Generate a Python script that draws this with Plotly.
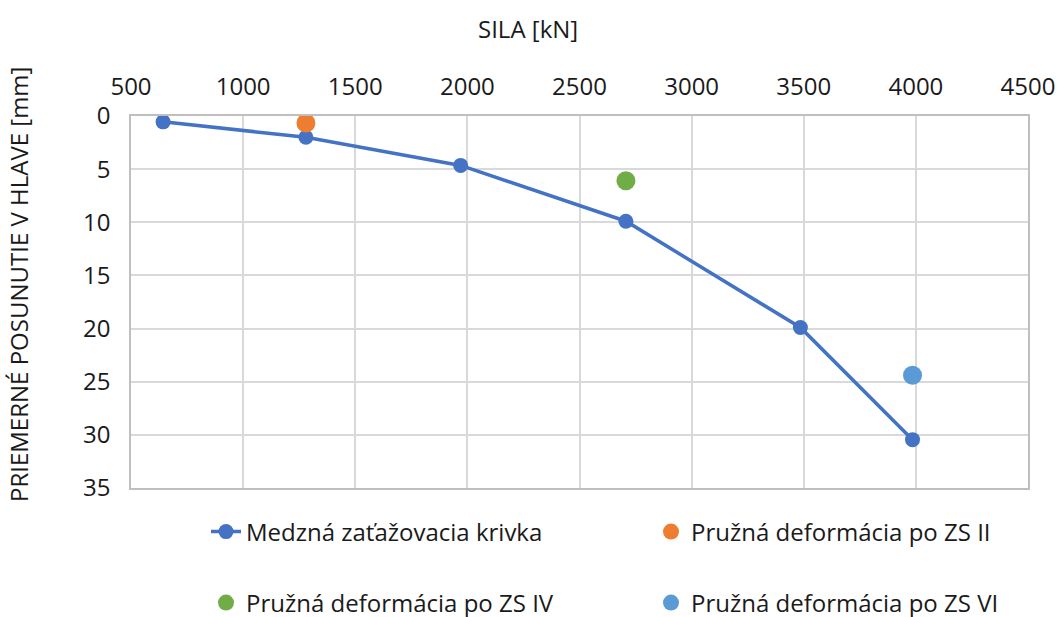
import plotly.graph_objects as go

# Data
sila_curve = [643, 1280, 1970, 2707, 3485, 3985]
pos_curve = [0.55, 2.0, 4.65, 9.9, 19.9, 30.45]
sila_zs2 = [1280]
pos_zs2 = [0.65]
sila_zs4 = [2707]
pos_zs4 = [6.1]
sila_zs6 = [3985]
pos_zs6 = [24.4]

names = ["Medzná zaťažovacia krivka", "Pružná deformácia po ZS II",
         "Pružná deformácia po ZS IV", "Pružná deformácia po ZS VI"]
x_ticks = [500, 1000, 1500, 2000, 2500, 3000, 3500, 4000, 4500]
y_ticks = [0, 5, 10, 15, 20, 25, 30, 35]

FONT = "Open Sans"
FS = 24
TXT = "#1a1a1a"
fig = go.Figure()
fig.add_trace(go.Scatter(x=sila_curve, y=pos_curve, mode="lines+markers", name=names[0],
                         line=dict(color="#4472C4", width=3.5),
                         marker=dict(color="#4472C4", size=15), legend="legend"))
fig.add_trace(go.Scatter(x=sila_zs2, y=pos_zs2, mode="markers", name=names[1],
                         marker=dict(color="#ED7D31", size=19), legend="legend"))
fig.add_trace(go.Scatter(x=sila_zs4, y=pos_zs4, mode="markers", name=names[2],
                         marker=dict(color="#70AD47", size=19), legend="legend2"))
fig.add_trace(go.Scatter(x=sila_zs6, y=pos_zs6, mode="markers", name=names[3],
                         marker=dict(color="#5B9BD5", size=19), legend="legend2"))

W, H = 1058, 617
leg_common = dict(orientation="h", xref="container", yref="container",
                  xanchor="left", yanchor="middle", entrywidth=400,
                  font=dict(family=FONT, size=FS, color=TXT),
                  bgcolor="rgba(0,0,0,0)", itemsizing="trace", traceorder="normal")
fig.update_layout(
    width=W, height=H,
    margin=dict(l=131, r=30, t=116, b=129, autoexpand=False),
    paper_bgcolor="white", plot_bgcolor="white",
    font=dict(family=FONT, size=FS, color=TXT),
    legend=dict(x=206 / W, y=1 - 532 / H, **leg_common),
    legend2=dict(x=206 / W, y=1 - 603 / H, **leg_common),
    xaxis=dict(side="top", range=[500, 4500], tickvals=x_ticks, automargin=False,
               showgrid=True, gridcolor="#D9D9D9", gridwidth=1.5,
               showline=True, linecolor="#BFBFBF", linewidth=1.5, mirror=True,
               zeroline=False, ticks="", ticklabelstandoff=10,
               tickfont=dict(family=FONT, size=FS, color=TXT)),
    yaxis=dict(range=[35, 0], tickvals=y_ticks, automargin=False,
               showgrid=True, gridcolor="#D9D9D9", gridwidth=1.5,
               showline=True, linecolor="#BFBFBF", linewidth=1.5, mirror=True,
               zeroline=False, ticks="", ticklabelstandoff=14,
               tickfont=dict(family=FONT, size=FS, color=TXT)),
    annotations=[
        dict(text="SILA [kN]", xref="paper", yref="paper", x=(528 - 131) / (1028 - 131),
             y=1 - (28 - 116) / (488 - 116), xanchor="center", yanchor="middle",
             showarrow=False, font=dict(family=FONT, size=FS, color=TXT)),
        dict(text="PRIEMERNÉ POSUNUTIE V HLAVE [mm]", xref="paper", yref="paper",
             x=(18 - 131) / (1028 - 131), y=1 - (285 - 116) / (488 - 116),
             xanchor="center", yanchor="middle", textangle=-90,
             showarrow=False, font=dict(family=FONT, size=FS, color=TXT)),
    ],
)
fig.write_html("out.html", config={"displayModeBar": False},
               post_script="document.body.style.margin='0';")
